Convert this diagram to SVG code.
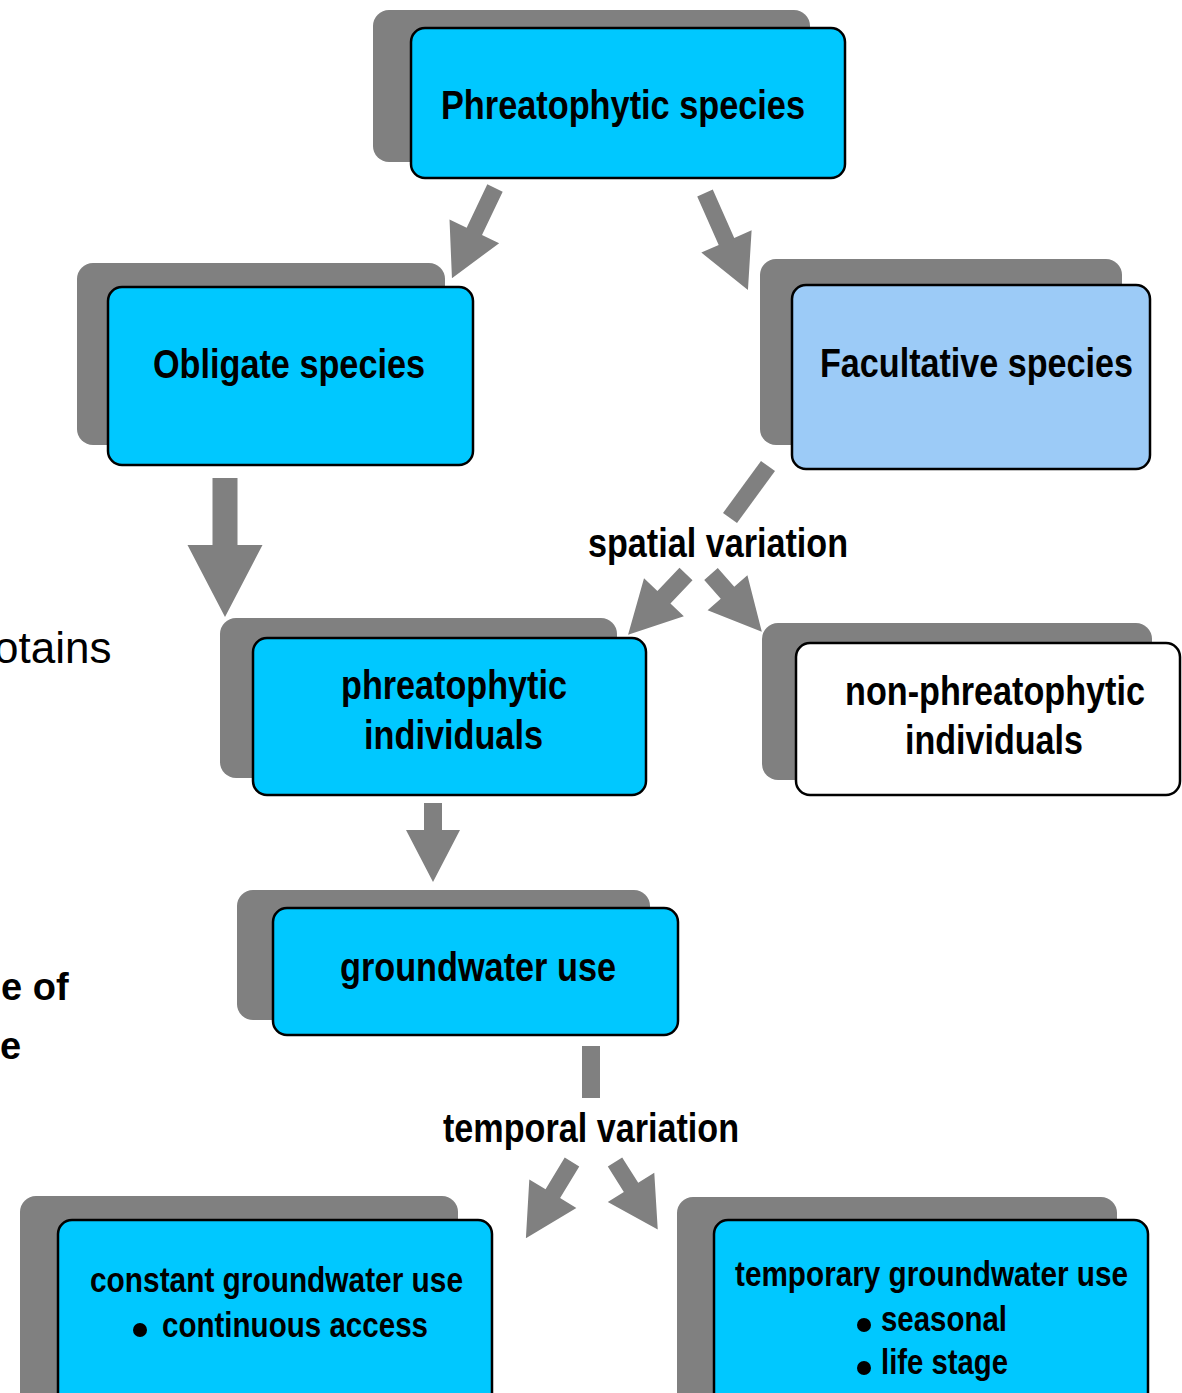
<svg xmlns="http://www.w3.org/2000/svg" width="1182" height="1393" viewBox="0 0 1182 1393">
<style>
.sh{fill:#808080;}
.bx{fill:#00C8FF;stroke:#000;stroke-width:2.5;}
.bl{fill:#9CCBF7;stroke:#000;stroke-width:2.5;}
.wh{fill:#FFFFFF;stroke:#000;stroke-width:2.5;}
.t{font-family:"Liberation Sans",Arial,sans-serif;font-weight:bold;font-size:40px;fill:#000;text-anchor:start;}
.ts{font-family:"Liberation Sans",Arial,sans-serif;font-weight:bold;font-size:35px;fill:#000;}
.ar{fill:#808080;}
.side{font-family:"Liberation Sans",Arial,sans-serif;fill:#000;}
</style>
<rect width="1182" height="1393" fill="#FFFFFF"/>

<g id="side-text">
<text class="side" x="-6" y="663" font-size="44">otains</text>
<text class="side" x="1" y="1000" font-size="38" font-weight="bold">e of</text>
<text class="side" x="0" y="1059" font-size="38" font-weight="bold">e</text>
</g>

<g id="connectors">
<polygon class="ar" transform="translate(495,188) rotate(25.5)" points="-8.5,0 8.5,0 8.5,48 27.5,48 0,100 -27.5,48 -8.5,48"/>
<polygon class="ar" transform="translate(705,193) rotate(-23.9)" points="-8.5,0 8.5,0 8.5,53 27.5,53 0,106 -27.5,53 -8.5,53"/>
<polygon class="ar" transform="translate(225,478)" points="-12.5,0 12.5,0 12.5,67 37.5,67 0,139 -37.5,67 -12.5,67"/>
<polygon class="ar" points="761,461 775,471 737,523 723,513"/>
<polygon class="ar" transform="translate(686,574) rotate(43.6)" points="-9,0 9,0 9,32 27.5,32 0,84 -27.5,32 -9,32"/>
<polygon class="ar" transform="translate(711,574) rotate(-41.3)" points="-9,0 9,0 9,25 26.5,25 0,77 -26.5,25 -9,25"/>
<polygon class="ar" transform="translate(433,803)" points="-9,0 9,0 9,27 27,27 0,79 -27,27 -9,27"/>
<rect class="ar" x="582" y="1046" width="18" height="52"/>
<polygon class="ar" transform="translate(572,1162) rotate(31.2)" points="-8.5,0 8.5,0 8.5,37 27.5,37 0,89 -27.5,37 -8.5,37"/>
<polygon class="ar" transform="translate(615,1162) rotate(-32.3)" points="-8.5,0 8.5,0 8.5,30 27.5,30 0,80 -27.5,30 -8.5,30"/>
<text class="t" x="588" y="557" textLength="260" lengthAdjust="spacingAndGlyphs">spatial variation</text>
<text class="t" x="443" y="1142" textLength="296" lengthAdjust="spacingAndGlyphs">temporal variation</text>
</g>

<g id="node-phreatophytic-species">
<rect class="sh" x="373" y="10" width="437" height="152" rx="16"/>
<rect class="bx" x="411" y="28" width="434" height="150" rx="14"/>
<text class="t" x="441" y="119" textLength="364" lengthAdjust="spacingAndGlyphs">Phreatophytic species</text>
</g>

<g id="node-obligate">
<rect class="sh" x="77" y="263" width="368" height="182" rx="16"/>
<rect class="bx" x="108" y="287" width="365" height="178" rx="14"/>
<text class="t" x="153" y="378" textLength="272" lengthAdjust="spacingAndGlyphs">Obligate species</text>
</g>

<g id="node-facultative">
<rect class="sh" x="760" y="259" width="362" height="186" rx="16"/>
<rect class="bl" x="792" y="285" width="358" height="184" rx="14"/>
<text class="t" x="820" y="377" textLength="313" lengthAdjust="spacingAndGlyphs">Facultative species</text>
</g>

<g id="node-phreatophytic-individuals">
<rect class="sh" x="220" y="618" width="397" height="160" rx="16"/>
<rect class="bx" x="253" y="638" width="393" height="157" rx="14"/>
<text class="t" x="341" y="699" textLength="226" lengthAdjust="spacingAndGlyphs">phreatophytic</text>
<text class="t" x="364" y="749" textLength="179" lengthAdjust="spacingAndGlyphs">individuals</text>
</g>

<g id="node-non-phreatophytic-individuals">
<rect class="sh" x="762" y="623" width="390" height="157" rx="16"/>
<rect class="wh" x="796" y="643" width="384" height="152" rx="14"/>
<text class="t" x="845" y="705" textLength="300" lengthAdjust="spacingAndGlyphs">non-phreatophytic</text>
<text class="t" x="905" y="754" textLength="178" lengthAdjust="spacingAndGlyphs">individuals</text>
</g>

<g id="node-groundwater-use">
<rect class="sh" x="237" y="890" width="413" height="130" rx="16"/>
<rect class="bx" x="273" y="908" width="405" height="127" rx="14"/>
<text class="t" x="340" y="981" textLength="276" lengthAdjust="spacingAndGlyphs">groundwater use</text>
</g>

<g id="node-constant">
<rect class="sh" x="20" y="1196" width="438" height="220" rx="16"/>
<rect class="bx" x="58" y="1220" width="434" height="200" rx="14"/>
<text class="ts" x="90" y="1292" textLength="373" lengthAdjust="spacingAndGlyphs">constant groundwater use</text>
<circle cx="140" cy="1330" r="7" fill="#000"/>
<text class="ts" x="162" y="1337" textLength="266" lengthAdjust="spacingAndGlyphs">continuous access</text>
</g>

<g id="node-temporary">
<rect class="sh" x="677" y="1197" width="440" height="220" rx="16"/>
<rect class="bx" x="714" y="1220" width="434" height="200" rx="14"/>
<text class="ts" x="735" y="1286" textLength="393" lengthAdjust="spacingAndGlyphs">temporary groundwater use</text>
<circle cx="864" cy="1325" r="7" fill="#000"/>
<text class="ts" x="881" y="1331" textLength="126" lengthAdjust="spacingAndGlyphs">seasonal</text>
<circle cx="864" cy="1368" r="7" fill="#000"/>
<text class="ts" x="881" y="1374" textLength="127" lengthAdjust="spacingAndGlyphs">life stage</text>
</g>
</svg>
